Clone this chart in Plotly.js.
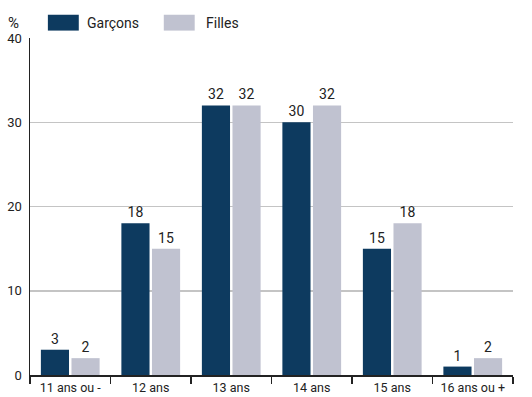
<!DOCTYPE html>
<html><head><meta charset="utf-8">
<script src="https://cdn.plot.ly/plotly-3.0.1.min.js"></script>
<style>body{margin:0;padding:0;background:#fff}#chart{width:532px;height:397px}</style>
</head><body><div id="chart"></div>
<script>
const categories = ["11 ans ou -", "12 ans", "13 ans", "14 ans", "15 ans", "16 ans ou +"];
const garcons = [3, 18, 32, 30, 15, 1];
const filles = [2, 15, 32, 32, 18, 2];
const yTicks = [0, 10, 20, 30, 40];

const FONT = "Roboto, 'Liberation Sans', sans-serif";
const DARK = "#0d3a5f", LIGHT = "#c0c2d0", TXT = "#222";

const traces = [
  {type: "bar", name: "Garçons", x: categories, y: garcons, marker: {color: DARK},
   text: garcons.map(String), textposition: "outside", cliponaxis: false,
   textfont: {family: FONT, size: 14, color: TXT}},
  {type: "bar", name: "Filles", x: categories, y: filles, marker: {color: LIGHT},
   text: filles.map(String), textposition: "outside", cliponaxis: false,
   textfont: {family: FONT, size: 14, color: TXT}}
];

const layout = {
  width: 532, height: 397,
  margin: {l: 30, r: 19, t: 38, b: 22},
  paper_bgcolor: "#fff", plot_bgcolor: "#fff",
  showlegend: false,
  barmode: "group", bargap: 0.24, bargroupgap: 0.08,
  font: {family: FONT, size: 13, color: TXT},
  xaxis: {type: "category", showline: true, linecolor: "#222", linewidth: 1.5,
          ticks: "outside", tickson: "boundaries", ticklen: 7, tickcolor: "#222", tickwidth: 1.5,
          tickangle: 0, automargin: false,
          tickfont: {family: FONT, size: 12.5, color: TXT}, showgrid: false, fixedrange: true},
  yaxis: {range: [0, 40], tickvals: yTicks, ticktext: yTicks.map(String),
          showline: true, linecolor: "#222", linewidth: 1.5, ticks: "", automargin: false,
          showgrid: true, gridcolor: "#c4c4c4", gridwidth: 1.5, zeroline: false,
          tickfont: {family: FONT, size: 13, color: TXT}, ticklabelstandoff: 4},
  shapes: [
    {type: "rect", xref: "paper", yref: "paper", x0: 0.037, x1: 0.101, y0: 1.022, y1: 1.069,
     fillcolor: DARK, line: {width: 0}},
    {type: "rect", xref: "paper", yref: "paper", x0: 0.277, x1: 0.341, y0: 1.022, y1: 1.069,
     fillcolor: LIGHT, line: {width: 0}}
  ],
  annotations: [
    {text: "%", xref: "paper", yref: "paper", x: -0.035, y: 1.045, xanchor: "center", yanchor: "middle",
     showarrow: false, font: {family: FONT, size: 15, color: TXT}},
    {text: "Garçons", xref: "paper", yref: "paper", x: 0.114, y: 1.045, xanchor: "left", yanchor: "middle",
     showarrow: false, font: {family: FONT, size: 14, color: TXT}},
    {text: "Filles", xref: "paper", yref: "paper", x: 0.361, y: 1.045, xanchor: "left", yanchor: "middle",
     showarrow: false, font: {family: FONT, size: 14, color: TXT}}
  ]
};

Plotly.newPlot("chart", traces, layout, {displayModeBar: false, staticPlot: true});
</script></body></html>
